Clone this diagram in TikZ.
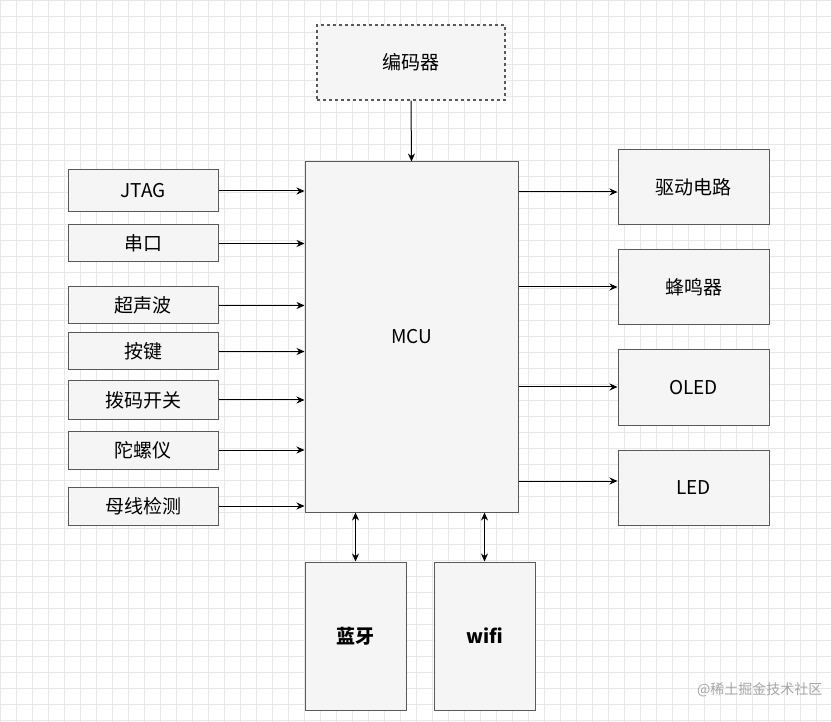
\documentclass[tikz,border=0pt]{standalone}
\usepackage{fontspec}
\setmainfont{Noto Sans CJK SC}
\usetikzlibrary{arrows.meta}
\begin{document}
\begin{tikzpicture}[x=1pt,y=-1pt,
 box/.style={draw=black!65,fill=black!4,line width=1pt,inner sep=0pt,font=\fontsize{19}{22}\selectfont},
 arr/.style={-{Stealth[length=8pt,width=7pt]},line width=1pt},
 darr/.style={{Stealth[length=8pt,width=7pt]}-{Stealth[length=8pt,width=7pt]},line width=1pt}]
\useasboundingbox (0,0) rectangle (831,722);
\fill[white] (0,0) rectangle (831,722);
\foreach \i in {0,16,...,830} \draw[black!9,line width=0.5pt] (\i,0) -- (\i,722);
\foreach \i in {0,16,...,721} \draw[black!9,line width=0.5pt] (0,\i) -- (831,\i);
\node[box,dashed,line width=1.4pt,minimum width=188pt,minimum height=75pt] (enc) at (411,62.5) {编码器};
\node[box,minimum width=213pt,minimum height=350pt] (mcu) at (411.5,337) {MCU};
\foreach \n/\t/\ya/\yb in {j/JTAG/170/212, c/串口/225/262, u/超声波/287/324, k/按键/333/370, b/拨码开关/381/419, g/陀螺仪/431/469, m/母线检测/487/525}{
 \node[box,minimum width=150pt,minimum height={\yb-\ya}] (\n) at (143,{(\ya+\yb)/2}) {\t};
 \draw[arr] (\n.east) -- (\n.east -| mcu.west);
}
\foreach \n/\t/\y in {d/驱动电路/187.5, f/蜂鸣器/287.5, o/OLED/387.5, l/LED/487.5}{
 \node[box,minimum width=151pt,minimum height=75pt] (\n) at (693.5,\y) {\t};
}
\draw[arr] (mcu.east |- 0,192) -- (d.west |- 0,192);
\draw[arr] (mcu.east |- 0,287) -- (f.west |- 0,287);
\draw[arr] (mcu.east |- 0,387) -- (o.west |- 0,387);
\draw[arr] (mcu.east |- 0,481) -- (l.west |- 0,481);
\node[box,minimum width=101pt,minimum height=148pt,font=\fontsize{19}{22}\selectfont\bfseries] (bt) at (355.5,636) {蓝牙};
\node[box,minimum width=101pt,minimum height=148pt,font=\fontsize{19}{22}\selectfont\bfseries] (wf) at (484.5,636) {wifi};
\draw[darr] (mcu.south -| bt) -- (bt.north);
\draw[darr] (mcu.south -| wf) -- (wf.north);
\draw[arr] (enc.south) -- (mcu.north);
\node[text=black!35,font=\fontsize{14}{16}\selectfont,anchor=east] (wm) at (826,690) {@稀土掘金技术社区};
\end{tikzpicture}
\end{document}
